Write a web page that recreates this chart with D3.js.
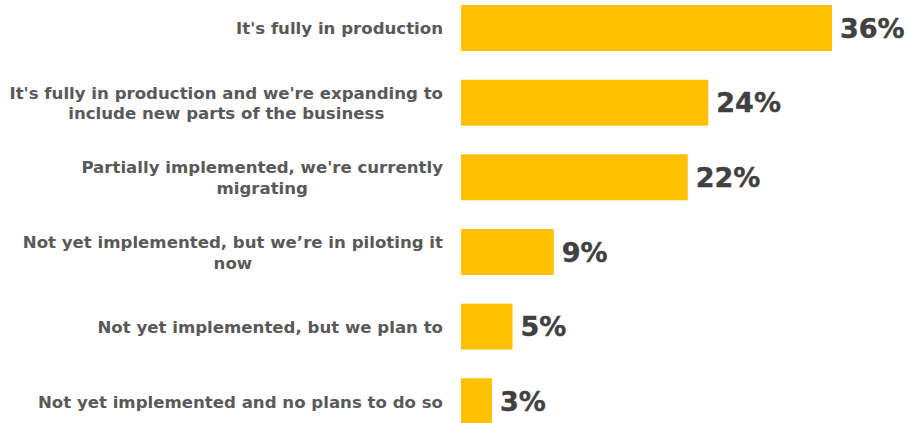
<!DOCTYPE html>
<html>
<head>
<meta charset="utf-8">
<script src="https://cdn.jsdelivr.net/npm/d3@7"></script>
<style>
  html, body { margin: 0; padding: 0; background: #ffffff; }
  svg { display: block; }
  .cat { font-family: "DejaVu Sans", Verdana, sans-serif; font-weight: bold; font-size: 16.6px; fill: #595959; }
  .val { font-family: "DejaVu Sans", Verdana, sans-serif; font-weight: bold; font-size: 27px; fill: #404040; stroke: #404040; stroke-width: 0.4px; }
</style>
</head>
<body>
<svg id="chart" width="907" height="423"></svg>
<script>
// Survey answers, one line per array entry for wrapped labels
const categories = [
  ["It's fully in production"],
  ["It's fully in production and we're expanding to", "include new parts of the business"],
  ["Partially implemented, we're currently", "migrating"],
  ["Not yet implemented, but we\u2019re in piloting it", "now"],
  ["Not yet implemented, but we plan to"],
  ["Not yet implemented and no plans to do so"]
];
const values = [36, 24, 22, 9, 5, 3];
const valueLabels = ["36%", "24%", "22%", "9%", "5%", "3%"];

const width = 907, height = 423;
const barLeft = 461;
const labelRight = 443;
const lineHeight = 20.5;

const svg = d3.select("#chart");

const x = d3.scaleLinear().domain([0, 36]).range([barLeft, 832]);
const y = d3.scaleBand()
  .domain(d3.range(values.length))
  .range([-9.3, 438.6])
  .paddingInner(0.384)
  .paddingOuter(0.192);

const rows = svg.selectAll("g.row")
  .data(values.map((v, i) => ({ v, i, lines: categories[i], label: valueLabels[i] })))
  .join("g")
  .attr("class", "row");

rows.append("rect")
  .attr("x", x(0))
  .attr("y", d => y(d.i))
  .attr("width", d => x(d.v) - x(0))
  .attr("height", y.bandwidth())
  .attr("fill", "#ffc000");

// Category labels: block right-aligned against the bars, lines centred within the block
rows.append("text")
  .attr("class", "cat")
  .attr("text-anchor", "middle")
  .each(function (d) {
    const cy = y(d.i) + y.bandwidth() / 2;
    const n = d.lines.length;
    const t = d3.select(this);
    const spans = d.lines.map((line, k) =>
      t.append("tspan")
        .attr("y", cy + (k - (n - 1) / 2) * lineHeight)
        .attr("dy", "0.38em")
        .text(line));
    const maxW = d3.max(spans, s => s.node().getComputedTextLength());
    spans.forEach(s => s.attr("x", labelRight - maxW / 2));
  });

rows.append("text")
  .attr("class", "val")
  .attr("x", d => x(d.v) + 8)
  .attr("y", d => y(d.i) + y.bandwidth() / 2)
  .attr("dy", "0.36em")
  .text(d => d.label);
</script>
</body>
</html>
